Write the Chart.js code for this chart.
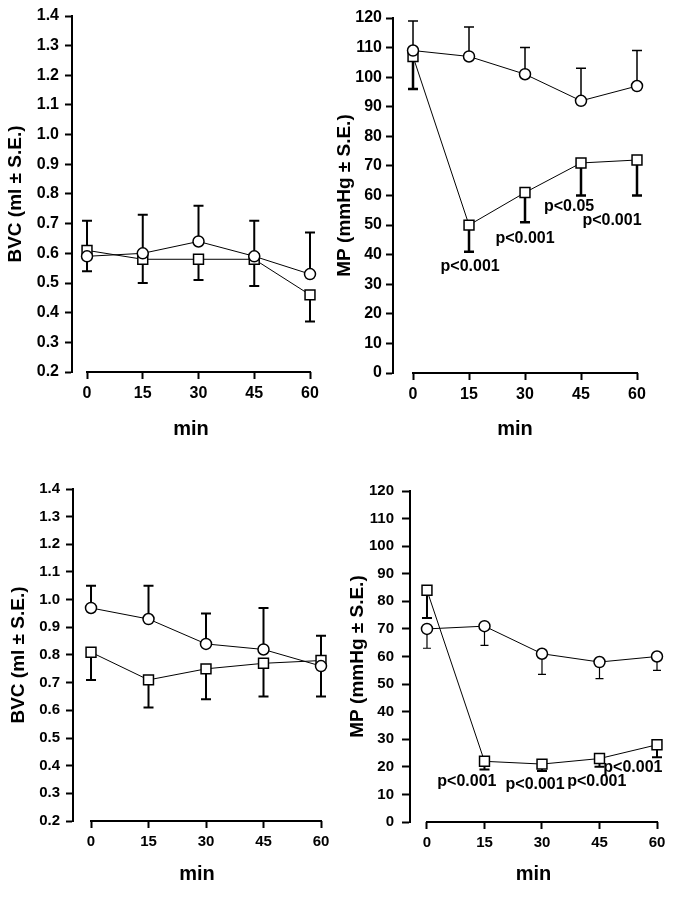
<!DOCTYPE html>
<html><head><meta charset="utf-8">
<script src="https://cdn.jsdelivr.net/npm/chart.js@4"></script>
<style>
html,body{margin:0;padding:0;background:#fff;}
body{width:685px;height:913px;position:relative;overflow:hidden;}
canvas{position:absolute;}
</style></head><body>
<canvas id="cA" width="340" height="440" style="left:0px;top:0px"></canvas>
<canvas id="cB" width="355" height="440" style="left:330px;top:0px"></canvas>
<canvas id="cC" width="340" height="463" style="left:0px;top:450px"></canvas>
<canvas id="cD" width="355" height="463" style="left:330px;top:450px"></canvas>
<script>
// ---------- data ----------
const minutes = [0, 15, 30, 45, 60];
const bvcTicks = [0.2, 0.3, 0.4, 0.5, 0.6, 0.7, 0.8, 0.9, 1.0, 1.1, 1.2, 1.3, 1.4];
const mpTicks = [0, 10, 20, 30, 40, 50, 60, 70, 80, 90, 100, 110, 120];

// top-left: BVC
const bvcA_circle   = [0.59, 0.60, 0.64, 0.59, 0.53];
const bvcA_circleSE = [0.71, 0.73, 0.76, 0.71, 0.67];
const bvcA_square   = [0.61, 0.58, 0.58, 0.58, 0.46];
const bvcA_squareSE = [0.54, 0.50, 0.51, 0.49, 0.37];

// top-right: MP
const mpB_circle   = [109, 107, 101, 92, 97];
const mpB_circleSE = [119, 117, 110, 103, 109];
const mpB_square   = [107, 50, 61, 71, 72];
const mpB_squareSE = [96, 41, 51, 60, 60];
const mpB_pLabels  = ['p<0.001', 'p<0.001', 'p<0.05', 'p<0.001'];
const mpB_pX       = [15.3, 30.0, 41.8, 53.3];
const mpB_pY       = [36, 45.3, 56.3, 51.5];

// bottom-left: BVC
const bvcC_circle   = [0.97, 0.93, 0.84, 0.82, 0.76];
const bvcC_circleSE = [1.05, 1.05, 0.95, 0.97, 0.87];
const bvcC_square   = [0.81, 0.71, 0.75, 0.77, 0.78];
const bvcC_squareSE = [0.71, 0.61, 0.64, 0.65, 0.65];

// bottom-right: MP
const mpD_circle   = [70, 71, 61, 58, 60];
const mpD_circleSE = [63, 64, 53.5, 52, 55];
const mpD_square   = [84, 22, 21, 23, 28];
const mpD_squareSE = [74, 19, 18.5, 20, 23.5];
const mpD_pLabels  = ['p<0.001', 'p<0.001', 'p<0.001', 'p<0.001'];
const mpD_pX       = [10.4, 28.2, 44.3, 53.7];
const mpD_pY       = [14.5, 13.5, 14.5, 19.6];

// ---------- drawing ----------
const FONT = "'Liberation Sans', Arial, Helvetica, sans-serif";

const errorBars = {
  id: 'errorBars',
  beforeDatasetsDraw(chart) {
    const cfg = chart.options.plugins.errorBars;
    const xs = chart.scales.x, ys = chart.scales.y, ctx = chart.ctx;
    ctx.save();
    ctx.strokeStyle = '#000';
    cfg.sets.forEach(set => {
      ctx.lineWidth = set.width;
      set.ends.forEach((v, i) => {
        const px = xs.getPixelForValue(minutes[i]);
        const p0 = ys.getPixelForValue(set.mid[i]);
        const p1 = ys.getPixelForValue(v);
        ctx.beginPath();
        ctx.moveTo(px, p0); ctx.lineTo(px, p1);
        ctx.moveTo(px - set.cap, p1); ctx.lineTo(px + set.cap, p1);
        ctx.stroke();
      });
    });
    ctx.restore();
  }
};

const xAxisLine = {
  id: 'xAxisLine',
  beforeDatasetsDraw(chart) {
    const xs = chart.scales.x, ctx = chart.ctx;
    const y = chart.chartArea.bottom;
    ctx.save();
    ctx.strokeStyle = '#000';
    ctx.lineWidth = 2;
    ctx.beginPath();
    ctx.moveTo(xs.getPixelForValue(minutes[0]) - 1, y);
    ctx.lineTo(xs.getPixelForValue(minutes[minutes.length - 1]) + 1, y);
    ctx.stroke();
    ctx.restore();
  }
};

const pNotes = {
  id: 'pNotes',
  afterDatasetsDraw(chart) {
    const cfg = chart.options.plugins.pNotes;
    if (!cfg || !cfg.labels) return;
    const xs = chart.scales.x, ys = chart.scales.y, ctx = chart.ctx;
    ctx.save();
    ctx.fillStyle = '#000';
    ctx.font = 'bold ' + cfg.size + 'px ' + FONT;
    ctx.textAlign = 'center';
    ctx.textBaseline = 'middle';
    cfg.labels.forEach((t, i) => {
      ctx.fillText(t, xs.getPixelForValue(cfg.xs[i]), ys.getPixelForValue(cfg.ys[i]));
    });
    ctx.restore();
  }
};

function makePanel(id, p) {
  const ds = (vals, style, r) => ({
    data: minutes.map((x, i) => ({ x: x, y: vals[i] })),
    borderColor: '#000', borderWidth: 1,
    pointStyle: style, pointRadius: r, pointHoverRadius: r,
    pointBackgroundColor: '#fff', pointBorderColor: '#000', pointBorderWidth: 1.5,
    tension: 0, clip: false
  });
  new Chart(document.getElementById(id), {
    type: 'line',
    data: { datasets: [ds(p.circle, 'circle', 5.5), ds(p.square, 'rect', 7)] },
    options: {
      responsive: false, animation: false, events: [],
      layout: { padding: p.pad },
      plugins: {
        legend: { display: false }, tooltip: { enabled: false },
        errorBars: { sets: [
          { mid: p.circle, ends: p.circleSE, width: p.cw, cap: p.ccap },
          { mid: p.square, ends: p.squareSE, width: p.sw, cap: p.scap }
        ] },
        pNotes: { labels: p.pLabels, xs: p.pX, ys: p.pY, size: 16 }
      },
      scales: {
        x: {
          type: 'linear', min: p.xmin, max: 60,
          afterBuildTicks: s => { s.ticks = minutes.map(v => ({ value: v })); },
          afterFit: s => { s.height = p.xh; },
          grid: { drawOnChartArea: false, drawTicks: true, tickLength: 7, tickWidth: 2, tickColor: '#000' },
          border: { display: false },
          ticks: { color: '#000', font: { family: FONT, size: p.tick, weight: 'bold' }, padding: 5, maxRotation: 0 },
          title: { display: true, text: 'min', color: '#000', padding: 0,
                   font: { family: FONT, size: 20, weight: 'bold', lineHeight: 1 } }
        },
        y: {
          type: 'linear', min: p.ticks[0], max: p.ticks[p.ticks.length - 1],
          afterBuildTicks: s => { s.ticks = p.ticks.map(v => ({ value: v })); },
          afterFit: s => { s.width = p.yw; },
          grid: { drawOnChartArea: false, drawTicks: true, tickLength: p.ytl, tickWidth: 2, tickColor: '#000' },
          border: { display: true, color: '#000', width: 2 },
          ticks: { color: '#000', font: { family: FONT, size: p.tick, weight: 'bold' }, padding: p.ypad,
                   callback: v => p.fmt(v) },
          title: { display: true, text: p.title, color: '#000', padding: 0,
                   font: { family: FONT, size: 19, weight: 'bold', lineHeight: 1 } }
        }
      }
    },
    plugins: [errorBars, xAxisLine, pNotes]
  });
}

const fmtBVC = v => v.toFixed(1);
const fmtMP = v => String(Math.round(v));

makePanel('cA', {
  circle: bvcA_circle, circleSE: bvcA_circleSE, square: bvcA_square, squareSE: bvcA_squareSE,
  ticks: bvcTicks, fmt: fmtBVC, title: 'BVC (ml \u00b1 S.E.)',
  pad: { left: 6, right: 30, top: 16, bottom: 1 }, yw: 66, xh: 67, xmin: -4.04,
  tick: 16, ytl: 7, ypad: 6, cw: 2, sw: 2, ccap: 5, scap: 5
});
makePanel('cB', {
  circle: mpB_circle, circleSE: mpB_circleSE, square: mpB_square, squareSE: mpB_squareSE,
  ticks: mpTicks, fmt: fmtMP, title: 'MP (mmHg \u00b1 S.E.)',
  pad: { left: 5, right: 48, top: 18, bottom: 1 }, yw: 58, xh: 66, xmin: -5.36,
  tick: 16, ytl: 7, ypad: 4, cw: 1.5, sw: 2.5, ccap: 5, scap: 5,
  pLabels: mpB_pLabels, pX: mpB_pX, pY: mpB_pY
});
makePanel('cC', {
  circle: bvcC_circle, circleSE: bvcC_circleSE, square: bvcC_square, squareSE: bvcC_squareSE,
  ticks: bvcTicks, fmt: fmtBVC, title: 'BVC (ml \u00b1 S.E.)',
  pad: { left: 9, right: 19, top: 39, bottom: 29 }, yw: 64, xh: 63, xmin: -4.7,
  tick: 15, ytl: 7, ypad: 6, cw: 2, sw: 2, ccap: 5, scap: 5
});
makePanel('cD', {
  circle: mpD_circle, circleSE: mpD_circleSE, square: mpD_square, squareSE: mpD_squareSE,
  ticks: mpTicks, fmt: fmtMP, title: 'MP (mmHg \u00b1 S.E.)',
  pad: { left: 18, right: 28, top: 41, bottom: 29 }, yw: 62, xh: 62, xmin: -4.43,
  tick: 15, ytl: 8, ypad: 8, cw: 1.2, sw: 2, ccap: 4, scap: 5,
  pLabels: mpD_pLabels, pX: mpD_pX, pY: mpD_pY
});
</script>
</body></html>
